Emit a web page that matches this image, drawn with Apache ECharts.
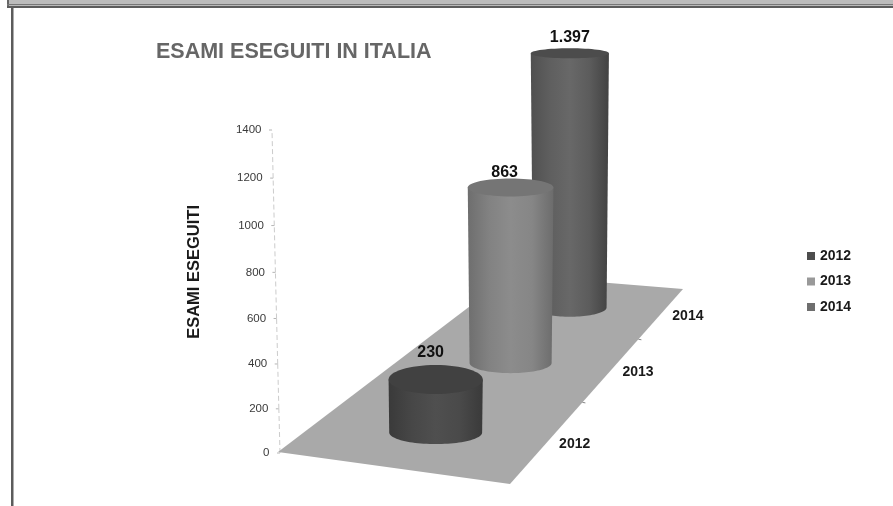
<!DOCTYPE html>
<html>
<head>
<meta charset="utf-8">
<style>html,body{margin:0;padding:0;background:#fff}#c{width:893px;height:506px}</style>
<script src="https://cdn.jsdelivr.net/npm/echarts@6/dist/echarts.min.js"></script>
</head>
<body>
<div id="c"></div>
<script>
const categories = ['2012', '2013', '2014'];
const values = [230, 863, 1397];
const valueTicks = [0, 200, 400, 600, 800, 1000, 1200, 1400];
const titleText = 'ESAMI ESEGUITI IN ITALIA';
const axisTitle = 'ESAMI ESEGUITI';
const FONT = '"Liberation Sans", Arial, sans-serif';

// Floor plane seen in perspective: homography from (u across, v depth) to pixels
const q = [[278, 452], [510, 484], [683, 289], [511, 275]];
const dx3 = q[0][0] - q[1][0] + q[2][0] - q[3][0], dy3 = q[0][1] - q[1][1] + q[2][1] - q[3][1];
const dx1 = q[1][0] - q[2][0], dx2 = q[3][0] - q[2][0], dy1 = q[1][1] - q[2][1], dy2 = q[3][1] - q[2][1];
const det = dx1 * dy2 - dx2 * dy1;
const hg = (dx3 * dy2 - dx2 * dy3) / det, hh = (dx1 * dy3 - dx3 * dy1) / det;
function floorW(u, v) { return 1 + hg * u + hh * v; }
function floorPt(u, v) {
  const w = floorW(u, v);
  return [
    ((q[1][0] - q[0][0] + hg * q[1][0]) * u + (q[3][0] - q[0][0] + hh * q[3][0]) * v + q[0][0]) / w,
    ((q[1][1] - q[0][1] + hg * q[1][1]) * u + (q[3][1] - q[0][1] + hh * q[3][1]) * v + q[0][1]) / w
  ];
}
const depthOf = i => (i + 0.5) / categories.length;

const sideStops = [
  ['#3a3a3a', '#474747', '#4f4f4f', '#4a4a4a', '#3a3a3a'],
  ['#6e6e6e', '#828282', '#8c8c8c', '#868686', '#6c6c6c'],
  ['#505050', '#5f5f5f', '#686868', '#5c5c5c', '#424242']
];
const topColors = ['#414141', '#757575', '#4c4c4c'];
const legendColors = ['#4d4d4d', '#999999', '#6e6e6e'];
const labelShift = [[-5, -12], [-6, -6], [0, -10.6]];

function fmt(v) { return String(v).replace(/\B(?=(\d{3})+$)/g, '.'); }

function renderCylinder(i) {
  return function (params, api) {
    const cat = api.value(0), val = api.value(1);
    const v = depthOf(cat);
    const base = floorPt(0.5, v);
    base[1] += 7 - 5 * v;
    const s = 1 / floorW(0.5, v);
    const rxB = 48.2 * s;
    const ryB = rxB * 0.25;
    const h = api.size([0, val])[1] * 1.035 * s;
    const topY = base[1] - h;
    const rxT = rxB * (1 + h * 0.00025);
    const ryT = 3.5 + 0.029 * topY;
    const pts = [];
    const N = 48;
    for (let k = 0; k <= N; k++) {
      const a = Math.PI * k / N;
      pts.push([base[0] - rxB * Math.cos(a), base[1] + ryB * Math.sin(a)]);
    }
    pts.push([base[0] + rxT, topY], [base[0] - rxT, topY]);
    const stops = sideStops[i];
    return {
      type: 'group',
      children: [
        {
          type: 'polygon',
          shape: { points: pts },
          style: {
            fill: {
              type: 'linear', x: 0, y: 0, x2: 1, y2: 0,
              colorStops: stops.map((c, k) => ({ offset: k / (stops.length - 1), color: c }))
            }
          }
        },
        {
          type: 'ellipse',
          shape: { cx: base[0], cy: topY, rx: rxT, ry: ryT },
          style: { fill: topColors[i] }
        },
        {
          type: 'text',
          style: {
            x: base[0] + labelShift[i][0],
            y: topY - ryT + labelShift[i][1],
            text: fmt(val),
            font: 'bold 16px ' + FONT,
            fill: '#111111',
            align: 'center',
            verticalAlign: 'middle'
          }
        }
      ]
    };
  };
}

function renderFloor(params, api) {
  const children = [{
    type: 'polygon',
    shape: { points: [floorPt(0, 0), floorPt(1, 0), floorPt(1, 1), floorPt(0, 1)] },
    style: { fill: '#a9a9a9' }
  }];
  categories.forEach((c, i) => {
    const p = floorPt(1, depthOf(i));
    children.push({
      type: 'text',
      style: {
        x: p[0] + 26, y: p[1] + 3.5, text: c,
        font: 'bold 14px ' + FONT, fill: '#1a1a1a',
        align: 'center', verticalAlign: 'middle'
      }
    });
    if (i > 0) {
      const t = floorPt(1, i / categories.length);
      children.push({
        type: 'line',
        shape: { x1: t[0], y1: t[1], x2: t[0] + 3, y2: t[1] + 0.5 },
        style: { stroke: '#888888', lineWidth: 1 }
      });
    }
  });
  return { type: 'group', children };
}

// Slanted value axis: x drifts with height, and the ticks follow the perspective bow
function axisPoint(api, val) {
  const t = val / valueTicks[valueTicks.length - 1];
  const p = api.coord([0, val]);
  return [280 - 8 * t, p[1] + 16 * t * (1 - t)];
}
function renderValueAxis(params, api) {
  const val = api.value(0);
  const p = axisPoint(api, val);
  const children = [
    { type: 'line', shape: { x1: p[0] - 3, y1: p[1], x2: p[0], y2: p[1] }, style: { stroke: '#b5b5b5', lineWidth: 1 } },
    {
      type: 'text',
      style: {
        x: p[0] - 10.5, y: p[1], text: String(val),
        font: '11.5px ' + FONT, fill: '#3a3a3a',
        align: 'right', verticalAlign: 'middle'
      }
    }
  ];
  if (params.dataIndex > 0) {
    const prev = axisPoint(api, valueTicks[params.dataIndex - 1]);
    children.push({
      type: 'line',
      shape: { x1: prev[0], y1: prev[1], x2: p[0], y2: p[1] },
      style: { stroke: '#cccccc', lineWidth: 1, lineDash: [5, 3] }
    });
  }
  return { type: 'group', children };
}

const chart = echarts.init(document.getElementById('c'), null, { renderer: 'canvas' });
chart.setOption({
  backgroundColor: '#ffffff',
  animation: false,
  title: {
    text: titleText, left: 151, top: 36,
    textStyle: { fontFamily: FONT, fontSize: 21.5, fontWeight: 'bold', color: '#666666' }
  },
  legend: {
    orient: 'vertical', left: 802, top: 244,
    itemWidth: 8, itemHeight: 8, itemGap: 11.5, icon: 'rect',
    data: categories,
    textStyle: { fontFamily: FONT, fontSize: 14, fontWeight: 'bold', color: '#1a1a1a' }
  },
  grid: { left: 272, right: 180, top: 130, bottom: 53 },
  xAxis: { type: 'category', data: categories, show: false },
  yAxis: {
    type: 'value', min: 0, max: 1400, interval: 200,
    axisLine: { show: false }, axisTick: { show: false },
    axisLabel: { show: false }, splitLine: { show: false }
  },
  graphic: [
    { type: 'rect', z: 0, shape: { x: 8, y: 0, width: 885, height: 4 }, style: { fill: '#bcbcbc' } },
    { type: 'rect', z: 0, shape: { x: 7, y: 0, width: 2, height: 7 }, style: { fill: '#666666' } },
    { type: 'rect', z: 0, shape: { x: 7, y: 4, width: 886, height: 1.5 }, style: { fill: '#777777' } },
    { type: 'rect', z: 0, shape: { x: 7, y: 6, width: 886, height: 2 }, style: { fill: '#5c5c5c' } },
    { type: 'rect', z: 0, shape: { x: 11, y: 7, width: 2.5, height: 499 }, style: { fill: '#5c5c5c' } },
    {
      type: 'text', left: 185.5, top: 205, rotation: Math.PI / 2, z: 5,
      style: { text: axisTitle, font: 'bold 16.5px ' + FONT, fill: '#1a1a1a' }
    }
  ],
  series: [
    { type: 'custom', name: 'Asse', silent: true, z: 1, renderItem: renderValueAxis, data: valueTicks.map(v => [v]), encode: { y: 0 } },
    { type: 'custom', name: 'Piano', silent: true, z: 1, renderItem: renderFloor, data: [[0, 0]] },
    ...categories.map((c, i) => ({
      type: 'custom',
      name: c,
      z: 10 - i,
      itemStyle: { color: legendColors[i] },
      renderItem: renderCylinder(i),
      data: [[i, values[i]]],
      encode: { x: 0, y: 1 }
    }))
  ]
});
</script>
</body>
</html>
